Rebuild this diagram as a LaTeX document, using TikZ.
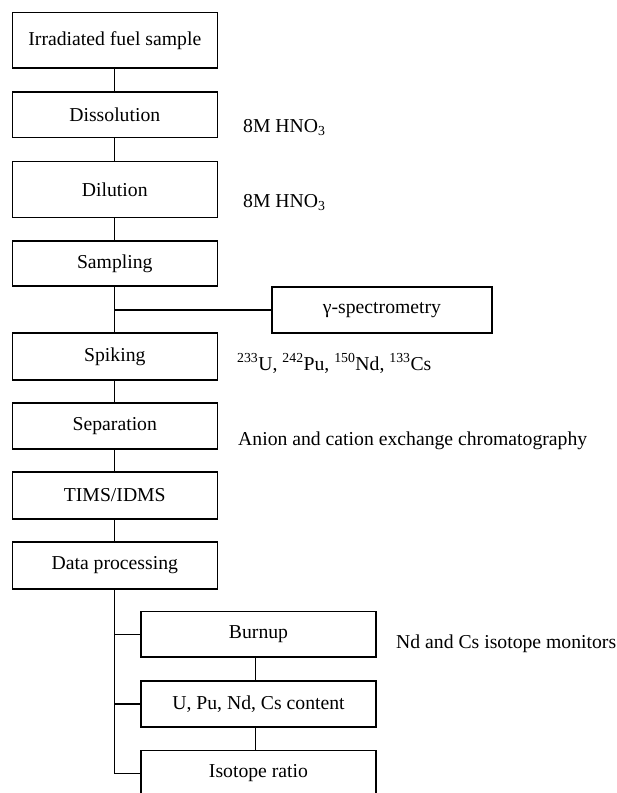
\documentclass[tikz,border=0pt]{standalone}
\usepackage{fontspec}
\setmainfont{Liberation Serif}
\begin{document}
\begin{tikzpicture}[x=1pt,y=-1pt,
  every node/.style={font=\fontsize{19.7}{23.6}\selectfont},
  box/.style={draw, line width=1.2pt, inner sep=0pt, minimum width=205pt},
  subbox/.style={box, minimum width=235pt},
  link/.style={line width=1.2pt},
  note/.style={anchor=base west, inner sep=0pt}]
\useasboundingbox (0,0) rectangle (617,793);
\clip (0,0) rectangle (617,793);
\fill[white] (0,0) rectangle (617,793);
% main column
\node[box, minimum height=55.5pt] (fuel) at (114.8,40.3) {Irradiated fuel sample};
\node[box, minimum height=45.7pt] (diss) at (114.8,114.9) {Dissolution};
\node[box, minimum height=55.6pt] (dil)  at (114.8,189.5) {Dilution};
\node[box, minimum height=45pt]   (samp) at (114.8,263.5) {Sampling};
\node[box, minimum height=47pt]   (spik) at (114.8,356.5) {Spiking};
\node[box, minimum height=46pt]   (sep)  at (114.8,426) {Separation};
\node[box, minimum height=47pt]   (tims) at (114.8,495.5) {TIMS/IDMS};
\node[box, minimum height=47pt]   (data) at (114.8,565.5) {Data processing};
% side box
\node[box, minimum width=220pt, minimum height=46pt] (gam) at (382,310) {γ-spectrometry};
% sub boxes
\node[subbox, minimum height=45.5pt] (burn) at (258.5,634.3) {Burnup};
\node[subbox, minimum height=46pt]   (cont) at (258.5,704) {U, Pu, Nd, Cs content};
\node[subbox, minimum height=46pt]   (iso)  at (258.5,773.5) {Isotope ratio};
% notes
\node[note] (n1) at (243,132) {8M HNO\textsubscript{3}};
\node[note] (n2) at (243,207) {8M HNO\textsubscript{3}};
\node[note] (n3) at (237,370) {\textsuperscript{233}U, \textsuperscript{242}Pu, \textsuperscript{150}Nd, \textsuperscript{133}Cs};
\node[note] (n4) at (238,445) {Anion and cation exchange chromatography};
\node[note] (n5) at (396,648) {Nd and Cs isotope monitors};
% connectors
\draw[link] (fuel) -- (diss);
\draw[link] (diss) -- (dil);
\draw[link] (dil) -- (samp);
\draw[link] (samp) -- (spik);
\coordinate (br) at (samp.south |- gam.west);
\draw[link] (br) -- (gam.west);
\draw[link] (spik) -- (sep);
\draw[link] (sep) -- (tims);
\draw[link] (tims) -- (data);
\draw[link] (data.south) |- (iso.west);
\coordinate (b1) at (data.south |- burn.west);
\coordinate (b2) at (data.south |- cont.west);
\draw[link] (b1) -- (burn.west);
\draw[link] (b2) -- (cont.west);
\draw[link] ([xshift=-3pt]burn.south) -- ([xshift=-3pt]cont.north);
\draw[link] ([xshift=-3pt]cont.south) -- ([xshift=-3pt]iso.north);
\end{tikzpicture}
\end{document}
